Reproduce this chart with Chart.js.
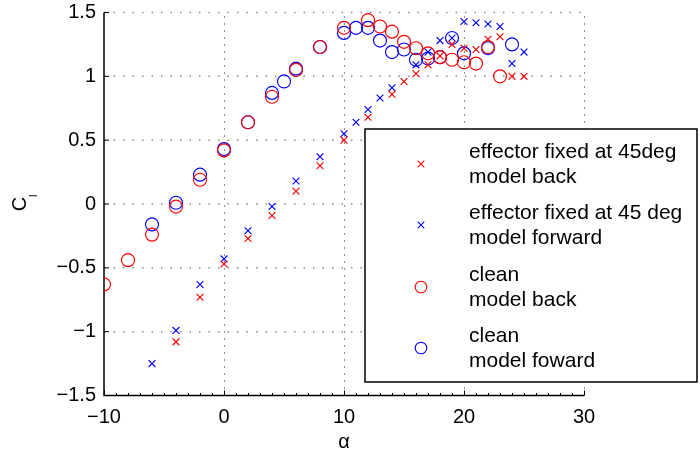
<!DOCTYPE html>
<html>
<head>
<meta charset="utf-8">
<script src="https://cdn.jsdelivr.net/npm/chart.js@4"></script>
<style>
  html, body { margin: 0; padding: 0; background: #fff; }
  #wrap { width: 700px; height: 455px; }
</style>
</head>
<body>
<div id="wrap"><canvas id="clChart"></canvas></div>
<script>
// lift coefficient vs angle of attack, four test runs
const alphaEffBack = [-4, -2, 0, 2, 4, 6, 8, 10, 12, 14, 15, 16, 17, 18, 19, 20, 21, 22, 23, 24, 25];
const clEffBack = [-1.08, -0.73, -0.47, -0.27, -0.09, 0.10, 0.30, 0.50, 0.68, 0.86, 0.96, 1.02, 1.09, 1.16, 1.25, 1.22, 1.21, 1.29, 1.31, 1.00, 1.00];

const alphaEffFwd = [-6, -4, -2, 0, 2, 4, 6, 8, 10, 11, 12, 13, 14, 16, 17, 18, 19, 20, 21, 22, 23, 24, 25];
const clEffFwd = [-1.25, -0.99, -0.63, -0.43, -0.21, -0.02, 0.18, 0.37, 0.55, 0.64, 0.74, 0.83, 0.91, 1.09, 1.19, 1.28, 1.30, 1.43, 1.42, 1.41, 1.39, 1.10, 1.19];

const alphaCleanBack = [-10, -8, -6, -4, -2, 0, 2, 4, 6, 8, 10, 12, 13, 14, 15, 16, 17, 18, 19, 20, 21, 22, 23];
const clCleanBack = [-0.63, -0.44, -0.24, -0.02, 0.19, 0.42, 0.64, 0.84, 1.05, 1.23, 1.38, 1.44, 1.39, 1.35, 1.27, 1.22, 1.18, 1.15, 1.13, 1.11, 1.10, 1.23, 1.00];

const alphaCleanFwd = [-6, -4, -2, 0, 2, 4, 5, 6, 8, 10, 11, 12, 13, 14, 15, 16, 17, 18, 19, 20, 22, 24];
const clCleanFwd = [-0.16, 0.01, 0.23, 0.43, 0.64, 0.87, 0.96, 1.06, 1.23, 1.34, 1.38, 1.38, 1.28, 1.19, 1.21, 1.13, 1.14, 1.15, 1.30, 1.18, 1.22, 1.25];

const xTicks = [-10, 0, 10, 20, 30];
const yTicks = [-1.5, -1, -0.5, 0, 0.5, 1, 1.5];

const seriesLabels = [
  ['effector fixed at 45deg', 'model back'],
  ['effector fixed at 45 deg', 'model forward'],
  ['clean', 'model back'],
  ['clean', 'model foward']
];

const RED = '#ff0000';
const BLUE = '#0000ff';
const FONT = '"Liberation Sans", Arial, Helvetica, sans-serif';

function pts(xs, ys) {
  return xs.map((x, i) => ({ x: x, y: ys[i] }));
}

function fmt(v) {
  return String(v).replace('-', '\u2212');
}

function series(label, xs, ys, color, style) {
  return {
    label: label,
    data: pts(xs, ys),
    showLine: false,
    pointStyle: style,
    pointRadius: style === 'circle' ? 6.5 : 4.8,
    pointHoverRadius: style === 'circle' ? 6.5 : 4.8,
    borderColor: color,
    backgroundColor: 'rgba(0,0,0,0)',
    pointBorderWidth: 1.15
  };
}

// dotted grid, inward ticks and the two axis lines
const axesPlugin = {
  id: 'matlabAxes',
  beforeDatasetsDraw(chart) {
    const ctx = chart.ctx;
    const xs = chart.scales.x, ys = chart.scales.y;
    const a = chart.chartArea;
    ctx.save();
    ctx.lineWidth = 1;
    ctx.setLineDash([1, 6]);
    ctx.strokeStyle = '#222';
    xTicks.forEach(v => {
      if (v === xTicks[0]) return;
      const px = Math.round(xs.getPixelForValue(v)) + 0.5;
      ctx.beginPath(); ctx.moveTo(px, a.bottom); ctx.lineTo(px, a.top); ctx.stroke();
    });
    ctx.strokeStyle = '#8a8a8a';
    ctx.lineWidth = 1.5;
    ctx.setLineDash([1.5, 8]);
    yTicks.forEach(v => {
      if (v === yTicks[0]) return;
      const py = ys.getPixelForValue(v);
      ctx.beginPath(); ctx.moveTo(a.left, py); ctx.lineTo(a.right, py); ctx.stroke();
    });
    ctx.setLineDash([]);
    ctx.strokeStyle = '#000';
    ctx.lineWidth = 1.5;
    ctx.beginPath();
    ctx.moveTo(a.left, a.top); ctx.lineTo(a.left, a.bottom); ctx.lineTo(a.right, a.bottom);
    ctx.stroke();
    ctx.lineWidth = 1;
    yTicks.forEach(v => {
      const py = ys.getPixelForValue(v);
      ctx.beginPath(); ctx.moveTo(a.left, py); ctx.lineTo(a.left + 5, py); ctx.stroke();
    });
    for (let v = xTicks[0]; v <= xTicks[xTicks.length - 1]; v++) {
      const px = Math.round(xs.getPixelForValue(v)) + 0.5;
      const len = v % 10 === 0 ? 5 : 2.5;
      ctx.beginPath(); ctx.moveTo(px, a.bottom); ctx.lineTo(px, a.bottom - len); ctx.stroke();
    }
    ctx.restore();
  },
  afterDraw(chart) {
    const ctx = chart.ctx;
    const a = chart.chartArea;
    ctx.save();
    ctx.fillStyle = '#000';
    // axis titles
    ctx.font = '20px ' + FONT;
    ctx.textAlign = 'center';
    ctx.textBaseline = 'middle';
    ctx.fillText('\u03b1', (a.left + a.right) / 2, 442);
    ctx.translate(20, (a.top + a.bottom) / 2);
    ctx.rotate(-Math.PI / 2);
    ctx.fillText('C', 0, 0);
    ctx.textAlign = 'left';
    ctx.font = '11px ' + FONT;
    ctx.fillText('l', 7, 14);
    ctx.restore();

    // legend box with two-line entries
    const box = { left: 365, top: 129, right: 697, bottom: 382 };
    ctx.save();
    ctx.fillStyle = '#fff';
    ctx.fillRect(box.left, box.top, box.right - box.left, box.bottom - box.top);
    ctx.strokeStyle = '#000';
    ctx.lineWidth = 1.5;
    ctx.strokeRect(box.left, box.top, box.right - box.left, box.bottom - box.top);
    const rowY = [164, 225, 287, 348];
    chart.data.datasets.forEach((ds, i) => {
      const cy = rowY[i], cx = 421;
      ctx.strokeStyle = ds.borderColor;
      ctx.lineWidth = 1.1;
      ctx.beginPath();
      if (ds.pointStyle === 'circle') {
        ctx.arc(cx, cy, 5.8, 0, Math.PI * 2);
      } else {
        const r = 3.3;
        ctx.moveTo(cx - r, cy - r); ctx.lineTo(cx + r, cy + r);
        ctx.moveTo(cx + r, cy - r); ctx.lineTo(cx - r, cy + r);
      }
      ctx.stroke();
      ctx.fillStyle = '#000';
      ctx.font = '21px ' + FONT;
      ctx.textAlign = 'left';
      ctx.textBaseline = 'middle';
      ctx.fillText(seriesLabels[i][0], 469, cy - 12);
      ctx.fillText(seriesLabels[i][1], 469, cy + 13);
    });
    ctx.restore();
  }
};

new Chart(document.getElementById('clChart'), {
  type: 'scatter',
  data: {
    datasets: [
      series(seriesLabels[0].join(' '), alphaEffBack, clEffBack, RED, 'crossRot'),
      series(seriesLabels[1].join(' '), alphaEffFwd, clEffFwd, BLUE, 'crossRot'),
      series(seriesLabels[2].join(' '), alphaCleanBack, clCleanBack, RED, 'circle'),
      series(seriesLabels[3].join(' '), alphaCleanFwd, clCleanFwd, BLUE, 'circle')
    ]
  },
  options: {
    responsive: true,
    maintainAspectRatio: false,
    animation: false,
    layout: { padding: { top: 12.5, right: 116, left: 0, bottom: 0 } },
    plugins: {
      legend: { display: false },
      tooltip: { enabled: false }
    },
    scales: {
      x: {
        type: 'linear',
        min: -10,
        max: 30,
        afterBuildTicks: s => { s.ticks = xTicks.map(v => ({ value: v })); },
        afterFit: s => {
          s.height = 59.5;
          s.paddingLeft = 0;
          s.paddingRight = 0;
        },
        grid: { display: false, drawTicks: false },
        border: { display: false },
        ticks: {
          padding: 10,
          color: '#000',
          font: { family: FONT, size: 20 },
          callback: v => fmt(v)
        }
      },
      y: {
        type: 'linear',
        min: -1.5,
        max: 1.5,
        afterBuildTicks: s => { s.ticks = yTicks.map(v => ({ value: v })); },
        afterFit: s => {
          s.width = 104;
          s.paddingTop = 0;
          s.paddingBottom = 0;
        },
        grid: { display: false, drawTicks: false },
        border: { display: false },
        ticks: {
          padding: 8,
          color: '#000',
          font: { family: FONT, size: 20 },
          callback: v => fmt(v)
        }
      }
    }
  },
  plugins: [axesPlugin]
});
</script>
</body>
</html>
